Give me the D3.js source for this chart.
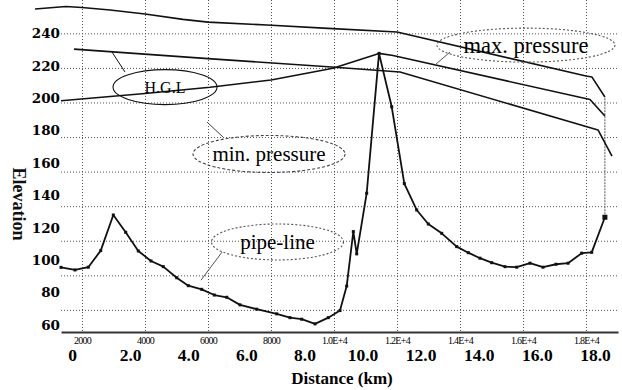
<!DOCTYPE html>
<html>
<head>
<meta charset="utf-8">
<script src="https://cdn.jsdelivr.net/npm/d3@7"></script>
<style>
body { margin: 0; background: #fff; }
svg { display: block; }
</style>
</head>
<body>
<svg id="drawing_region"></svg>
<script>
// distance in metres, elevation in m
const pipeDist = [1333, 1778, 2200, 2594, 2994, 3387, 3787, 4190, 4581, 5006, 5375, 5800, 6200, 6594, 7016,
    7546, 8181, 8603, 8975, 9397, 9819, 10190, 10403, 10613, 10721, 11038, 11429, 11832, 12232, 12625,
    12994, 13419, 13895, 14263, 14635, 15006, 15429, 15800, 16222, 16635, 17048, 17429, 17863, 18181, 18600];
const pipeElev = [104.6, 103.1, 104.7, 114.3, 134.9, 124.9, 114.1, 108.3, 105.0, 98.6, 94.0, 91.9, 88.6, 87.3, 82.9,
    80.4, 77.7, 75.5, 74.6, 71.9, 75.5, 79.6, 93.8, 125.3, 112.4, 147.5, 228.4, 197.5, 153.1, 137.8,
    129.7, 124.3, 116.6, 113.1, 109.9, 107.3, 105.0, 104.7, 107.0, 104.7, 106.4, 107.0, 112.8, 113.3, 133.6];

const topDist = [508, 1492, 2000, 2889, 4000, 5206, 6000, 7873, 9810, 12000, 18000, 18190, 18600];
const topElev = [254.1, 255.5, 255.0, 253.5, 251.2, 248.1, 246.5, 244.8, 242.9, 240.8, 215.3, 214.7, 203.2];

const hglDist = [1746, 6000, 9810, 12095, 18381, 18825];
const hglElev = [230.9, 225.4, 220.7, 217.6, 184.1, 169.0];

const midDist = [1333, 4000, 6063, 8000, 9968, 11429, 11873, 18127, 18600];
const midElev = [201.0, 205.2, 208.8, 213.0, 219.8, 228.4, 227.2, 201.7, 192.2];

const gridX = [2000, 4000, 6000, 8000, 10000, 12000, 14000, 16000, 18000];
const gridY = [80, 100, 120, 140, 160, 180, 200, 220, 240];
const yTickLabels = [60, 80, 100, 120, 140, 160, 180, 200, 220, 240];
const kmTickLabels = [0, 2, 4, 6, 8, 10, 12, 14, 16, 18];

// callouts: text, centre (m, elev), leader from / to (m, elev)
const noteText = ['H.G.L', 'min. pressure', 'max. pressure', 'pipe-line'];
const noteCentre = [[4635, 208.9], [7937, 170.2], [16095, 233.2], [8206, 119.3]];
const noteLeader = [[[3365, 217.6], [2952, 229.2]], [[6476, 180.0], [5968, 188.7]],
    [[13683, 229.2], [13206, 221.7]], [[6444, 113.4], [5778, 97.2]]];

const config = {
    width: 622,
    height: 390,
    margin: {top: 0, right: 4, bottom: 58, left: 61},
};

const svg = d3.select('#drawing_region')
    .attr('width', config.width)
    .attr('height', config.height);

const innerW = config.width - config.margin.left - config.margin.right;
const innerH = config.height - config.margin.top - config.margin.bottom;

const chart = svg.append('g')
    .attr('transform', `translate(${config.margin.left}, ${config.margin.top})`);

const x = d3.scaleLinear().domain([1333, 19016]).range([0, innerW]);
const y = d3.scaleLinear().domain([67.2, 259.3]).range([innerH, 0]);
// printed labels do not sit on the grid in the original
const yLab = d3.scaleLinear().domain([60, 240]).range([325 - config.margin.top, 33.3 - config.margin.top]);
const km = d3.scaleLinear().domain([0, 18]).range([72 - config.margin.left, 595 - config.margin.left]);

// grid
const gridStyle = g => {
    g.select('.domain').remove();
    g.selectAll('.tick line')
        .attr('stroke', '#555')
        .attr('stroke-width', 1)
        .attr('stroke-dasharray', '1,2');
};
chart.append('g')
    .call(d3.axisLeft(y).tickValues(gridY).tickSize(-innerW).tickFormat(''))
    .call(gridStyle);
chart.append('g')
    .call(d3.axisBottom(x).tickValues(gridX).tickSize(innerH).tickFormat(''))
    .call(gridStyle);

// small metre labels + bottom line
const xAxis = chart.append('g')
    .attr('transform', `translate(0, ${innerH})`)
    .call(d3.axisBottom(x).tickValues(gridX).tickSize(0).tickSizeOuter(0).tickPadding(5)
        .tickFormat(d => d < 10000 ? d : (d / 10000).toFixed(1) + 'E+4'));
xAxis.select('.domain').attr('stroke', '#333').attr('stroke-width', 1.8);
xAxis.selectAll('text')
    .attr('font-family', 'Liberation Serif')
    .attr('font-size', 10)
    .attr('letter-spacing', '-0.7px')
    .attr('fill', '#000');

// km labels
const kmAxis = chart.append('g')
    .attr('transform', `translate(0, ${innerH})`)
    .call(d3.axisBottom(km).tickValues(kmTickLabels).tickSize(0).tickPadding(17)
        .tickFormat(d => d === 0 ? '0' : d.toFixed(1)));
kmAxis.select('.domain').remove();
kmAxis.selectAll('text')
    .attr('font-family', 'Liberation Serif')
    .attr('font-weight', 'bold')
    .attr('font-size', 17.5)
    .attr('fill', '#000');

// elevation labels
const yAxis = chart.append('g')
    .call(d3.axisLeft(yLab).tickValues(yTickLabels).tickSize(0).tickPadding(1));
yAxis.select('.domain').remove();
yAxis.selectAll('text')
    .attr('font-family', 'DejaVu Serif')
    .attr('font-weight', 'bold')
    .attr('font-size', 13.5)
    .attr('fill', '#000');

svg.append('text')
    .attr('transform', 'translate(13, 204) rotate(90)')
    .attr('text-anchor', 'middle')
    .attr('font-family', 'Liberation Serif')
    .attr('font-weight', 'bold')
    .attr('font-size', 18)
    .attr('fill', '#111')
    .text('Elevation');

svg.append('text')
    .attr('x', 342)
    .attr('y', 384)
    .attr('text-anchor', 'middle')
    .attr('font-family', 'Liberation Serif')
    .attr('font-weight', 'bold')
    .attr('font-size', 17)
    .attr('fill', '#000')
    .text('Distance (km)');

// lines
const line = d3.line().x(d => x(d[0])).y(d => y(d[1]));
const series = [
    {pts: d3.zip(topDist, topElev), w: 1.6},
    {pts: d3.zip(hglDist, hglElev), w: 1.6},
    {pts: d3.zip(midDist, midElev), w: 1.6},
    {pts: d3.zip(pipeDist, pipeElev), w: 1.8},
];

// end-of-line marker
const last = pipeDist.length - 1;
chart.append('line')
    .attr('x1', x(pipeDist[last])).attr('x2', x(pipeDist[last]))
    .attr('y1', y(pipeElev[last])).attr('y2', y(topElev[topElev.length - 1]))
    .attr('stroke', '#555')
    .attr('stroke-width', 1)
    .attr('stroke-dasharray', '2,1');

chart.selectAll('path.series')
    .data(series)
    .enter()
    .append('path')
    .attr('class', 'series')
    .attr('d', d => line(d.pts))
    .attr('fill', 'none')
    .attr('stroke', '#111')
    .attr('stroke-width', d => d.w)
    .attr('stroke-linejoin', 'round');

chart.selectAll('rect.pt')
    .data(d3.zip(pipeDist, pipeElev))
    .enter()
    .append('rect')
    .attr('class', 'pt')
    .attr('x', (d, i) => x(d[0]) - (i === last ? 2.5 : 1.5))
    .attr('y', (d, i) => y(d[1]) - (i === last ? 2.5 : 1.5))
    .attr('width', (d, i) => i === last ? 5 : 3)
    .attr('height', (d, i) => i === last ? 5 : 3)
    .attr('fill', '#111');

// callouts
const ellipseR = [[52, 17.5], [76, 18.5], [89, 17], [66, 18]];
const ellipseDash = [null, '3,2', '2,2', '2,2'];
const ellipseColor = ['#111', '#444', '#555', '#555'];
const noteSize = [16, 21, 22.5, 21];

noteText.forEach((t, i) => {
    const g = chart.append('g');
    const [m, e] = noteCentre[i];
    g.append('line')
        .attr('x1', x(noteLeader[i][0][0])).attr('y1', y(noteLeader[i][0][1]))
        .attr('x2', x(noteLeader[i][1][0])).attr('y2', y(noteLeader[i][1][1]))
        .attr('stroke', ellipseColor[i])
        .attr('stroke-width', 1);
    g.append('ellipse')
        .attr('cx', x(m)).attr('cy', y(e))
        .attr('rx', ellipseR[i][0]).attr('ry', ellipseR[i][1])
        .attr('fill', 'none')
        .attr('stroke', ellipseColor[i])
        .attr('stroke-width', 1.1)
        .attr('stroke-dasharray', ellipseDash[i]);
    g.append('text')
        .attr('x', x(m)).attr('y', y(e))
        .attr('dy', '0.35em')
        .attr('text-anchor', 'middle')
        .attr('font-family', 'Liberation Serif')
        .attr('font-size', noteSize[i])
        .attr('fill', '#000')
        .text(t);
});
</script>
</body>
</html>
